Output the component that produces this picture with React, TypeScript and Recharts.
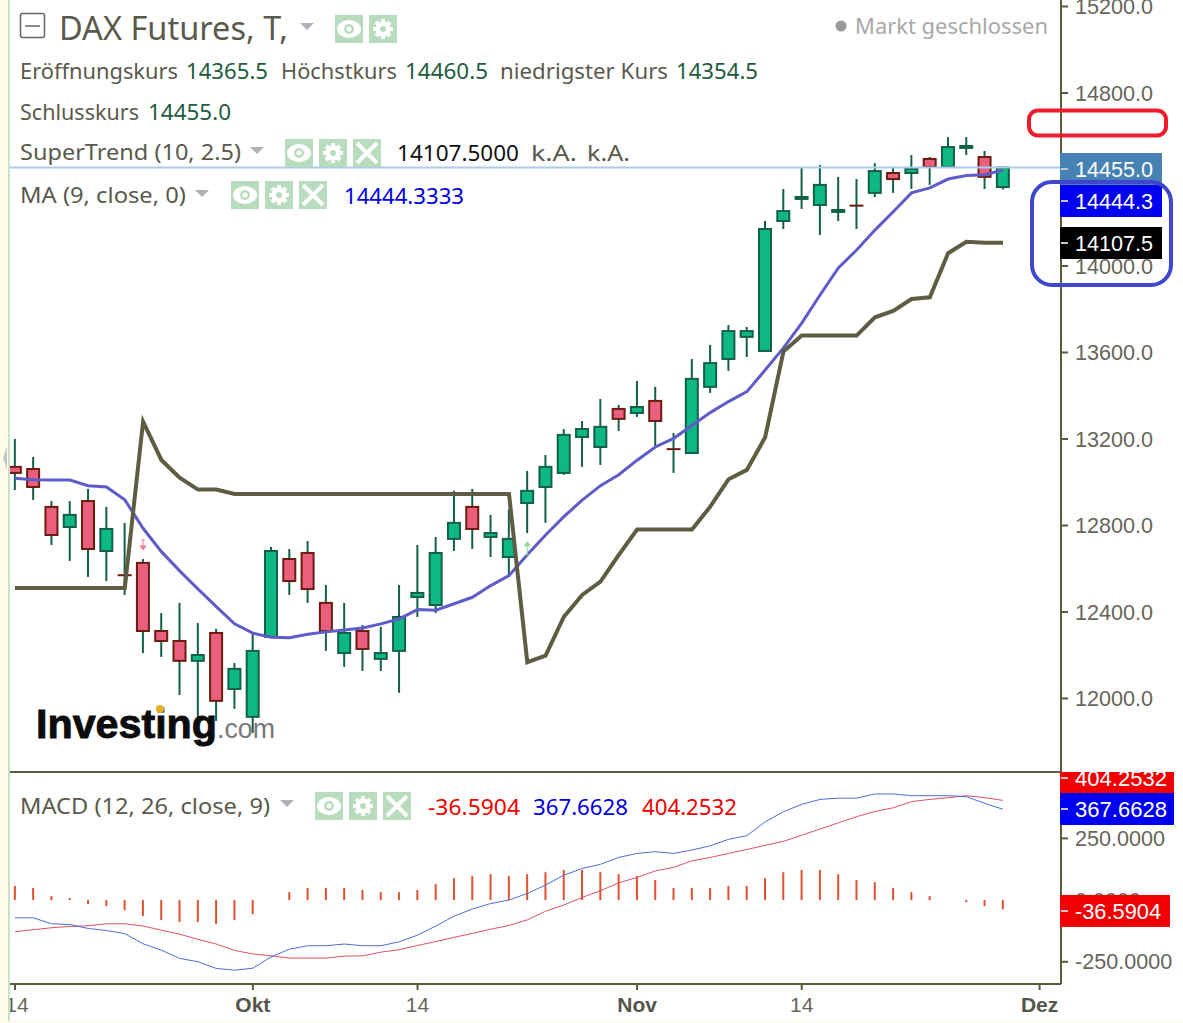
import React from 'react'
import {
  ComposedChart,
  Bar,
  Line,
  XAxis,
  YAxis,
  ReferenceLine,
  ReferenceDot,
} from 'recharts'

const opens = [13071, 13061, 12886, 12793, 12913, 12682, 12570, 12627, 12312, 12266, 12174, 12303, 12044, 11915, 12285, 12645, 12673, 12442, 12210, 12312, 12183, 12220, 12469, 12432, 12738, 12886, 12747, 12654, 12904, 12978, 13043, 13209, 13163, 13339, 13320, 13376, 13153, 13135, 13441, 13570, 13672, 13607, 14208, 14310, 14282, 14250, 14279, 14338, 14430, 14430, 14495, 14458, 14546, 14504, 14365]
const highs = [13200, 13117, 12913, 12913, 12969, 12886, 12812, 12645, 12395, 12442, 12349, 12322, 12164, 12303, 12701, 12691, 12728, 12525, 12442, 12340, 12331, 12525, 12710, 12747, 12960, 12969, 12849, 12876, 13052, 13126, 13246, 13283, 13385, 13357, 13468, 13441, 13228, 13570, 13635, 13727, 13718, 14208, 14356, 14458, 14467, 14412, 14402, 14476, 14458, 14513, 14504, 14596, 14596, 14532, 14460]
const lows = [12964, 12918, 12710, 12636, 12562, 12543, 12479, 12210, 12192, 12016, 11915, 11896, 11952, 11841, 12280, 12479, 12442, 12220, 12146, 12127, 12127, 12026, 12377, 12395, 12682, 12691, 12654, 12571, 12765, 12812, 13034, 13071, 13080, 13237, 13302, 13163, 13043, 13131, 13413, 13515, 13579, 13602, 14171, 14264, 14143, 14208, 14171, 14319, 14338, 14356, 14375, 14453, 14513, 14356, 14354]
const closes = [13043, 12978, 12756, 12849, 12691, 12784, 12566, 12312, 12266, 12174, 12201, 11989, 12137, 12220, 12682, 12543, 12506, 12312, 12303, 12229, 12210, 12377, 12488, 12673, 12812, 12784, 12765, 12738, 12960, 13071, 13219, 13246, 13256, 13293, 13348, 13283, 13149, 13478, 13551, 13699, 13699, 14171, 14254, 14319, 14375, 14259, 14275, 14439, 14402, 14449, 14458, 14550, 14555, 14412, 14455]
const maValues = [13018, 13012, 13010, 13010, 12984, 12978, 12919, 12787, 12679, 12590, 12506, 12425, 12345, 12302, 12283, 12281, 12297, 12308, 12317, 12326, 12345, 12368, 12411, 12408, 12438, 12468, 12522, 12568, 12665, 12756, 12841, 12917, 12984, 13035, 13102, 13163, 13203, 13262, 13322, 13373, 13419, 13519, 13621, 13736, 13866, 13991, 14074, 14166, 14251, 14338, 14361, 14402, 14418, 14422, 14444]
const superTrend = [12511, 12511, 12511, 12511, 12511, 12511, 12511, 13280, 13103, 13021, 12966, 12966, 12946, 12946, 12946, 12946, 12946, 12946, 12946, 12946, 12946, 12946, 12946, 12946, 12946, 12946, 12946, 12946, 12168, 12198, 12378, 12479, 12540, 12664, 12781, 12781, 12781, 12781, 12887, 13014, 13057, 13208, 13604, 13678, 13678, 13678, 13678, 13763, 13792, 13847, 13855, 14059, 14112, 14107, 14107]

const macdLine = [-72, -72, -96, -99, -115, -123, -136, -177, -203, -236, -250, -277, -284, -276, -230, -199, -185, -185, -178, -185, -185, -169, -142, -105, -65, -36, -14, 0, 27, 61, 101, 128, 145, 173, 189, 196, 189, 203, 220, 246, 261, 317, 358, 388, 408, 413, 413, 430, 430, 423, 423, 423, 419, 392, 368]
const signalLine = [-128, -120, -112, -107, -104, -96, -96, -105, -122, -138, -159, -178, -204, -218, -226, -235, -235, -235, -227, -226, -211, -201, -184, -168, -151, -135, -118, -103, -80, -45, -20, 11, 38, 70, 92, 118, 133, 159, 173, 189, 205, 222, 238, 263, 288, 313, 338, 359, 374, 399, 408, 415, 423, 415, 404]
const histogram = [57, 49, 16, 8, -16, -24, -41, -65, -81, -89, -89, -97, -81, -57, 0, 32, 49, 49, 49, 41, 32, 32, 41, 65, 89, 97, 105, 97, 105, 113, 122, 122, 113, 105, 97, 81, 49, 49, 49, 57, 57, 89, 113, 122, 122, 105, 81, 73, 49, 32, 16, 0, -8, -24, -37]

const priceTicks = [12000, 12400, 12800, 13200, 13600, 14000, 14800, 15200]
const macdTicks = [-250, 0, 250]
const dateTicks = [0, 13, 22, 34, 43, 56]
const dateLabels = ['14', 'Okt', '14', 'Nov', '14', 'Dez']

const priceData = opens.map((open, i) => ({
  i,
  open,
  high: highs[i],
  low: lows[i],
  close: closes[i],
  ma: maValues[i],
  st: superTrend[i],
}))

const macdData = macdLine.map((macd, i) => ({
  i,
  macd,
  signal: signalLine[i],
  hist: histogram[i],
}))

const WIDTH = 1183
const X_DOMAIN: [number, number] = [-0.273, 57.17]
const AXIS = '#5b5a3c'
const TICK_TEXT = '#66665a'
const LABEL = '#5a5a4c'
const GREEN_VAL = '#1e5c40'
const UI_FONT = '"Noto Sans", sans-serif'
const NUM_FONT = '"Liberation Sans", Arial, sans-serif'

function Candle(props: any) {
  const { x, y, width, height, payload } = props
  const { open, high, low, close } = payload
  const perUnit = height / (high - low)
  const yOf = (v: number) => y + (high - v) * perUnit
  const mid = x + width / 2
  const up = close >= open
  const top = yOf(Math.max(open, close))
  const bottom = yOf(Math.min(open, close))
  const doji = bottom - top < 1.2
  return (
    <g>
      <line x1={mid} x2={mid} y1={y} y2={y + height} stroke='#13604a' strokeWidth={2} />
      {doji ? (
        <line x1={mid - 7} x2={mid + 7} y1={top} y2={top} stroke='#6b1d0e' strokeWidth={2} />
      ) : (
        <rect
          x={x}
          y={top}
          width={width}
          height={bottom - top}
          fill={up ? '#0db884' : '#ea5f7e'}
          stroke={up ? '#13604a' : '#6b1d0e'}
          strokeWidth={2}
        />
      )}
    </g>
  )
}

function DateTick(props: any) {
  const { x, y, index } = props
  const label = dateLabels[index]
  const bold = label !== '14'
  return (
    <text
      x={x + (index === 0 ? 2 : 0)}
      y={y + 12}
      textAnchor='middle'
      dominantBaseline='central'
      fontFamily={NUM_FONT}
      fontSize={21}
      fontWeight={bold ? 700 : 400}
      fill={bold ? '#55554a' : TICK_TEXT}
    >
      {label}
    </text>
  )
}

function DownArrow(props: any) {
  const { cx, cy } = props
  return (
    <path
      d={`M${cx - 2} ${cy - 5}h4M${cx} ${cy - 5}v9M${cx - 3} ${cy + 1}l3 4l3 -4z`}
      stroke='#ee7f93'
      strokeWidth={1}
      fill='#ee7f93'
    />
  )
}

function UpArrow(props: any) {
  const { cx, cy } = props
  return (
    <path
      d={`M${cx - 2} ${cy + 6}h4M${cx} ${cy + 6}v-9M${cx - 3} ${cy - 3}l3 -4l3 4z`}
      stroke='#8fdc8f'
      strokeWidth={1}
      fill='#8fdc8f'
    />
  )
}

// text stretched to the extents measured in the picture
function T({ x, x2, y, size = 22, fill = LABEL, font = UI_FONT, children }: any) {
  return (
    <text
      x={x}
      y={y - 1}
      dominantBaseline='central'
      fontFamily={font}
      fontSize={size}
      fill={fill}
      textLength={x2 ? x2 - x : undefined}
      lengthAdjust={x2 ? 'spacingAndGlyphs' : undefined}
    >
      {children}
    </text>
  )
}

function Triangle({ x, y, w = 14 }: any) {
  return <path d={`M${x} ${y}h${w}l${-w / 2} 7z`} fill='#b5b0b8' />
}

function IconBox({ x, y, kind }: any) {
  const cx = x + 14
  const cy = y + 14
  return (
    <g>
      <rect x={x} y={y} width={28} height={28} fill='#b9dcbc' />
      {kind === 'eye' && (
        <g>
          <ellipse cx={cx} cy={cy} rx={12} ry={9} fill='#fff' />
          <circle cx={cx} cy={cy} r={5} fill='#b9dcbc' />
          <circle cx={cx} cy={cy} r={2.5} fill='#fff' />
        </g>
      )}
      {kind === 'gear' && (
        <g>
          <path
            d={`M${cx} ${y + 4}V${y + 24}M${x + 4} ${cy}H${x + 24}M${x + 7} ${y + 7}L${x + 21} ${y + 21}M${x + 21} ${y + 7}L${x + 7} ${y + 21}`}
            stroke='#fff'
            strokeWidth={4}
          />
          <circle cx={cx} cy={cy} r={7.5} fill='#fff' />
          <circle cx={cx} cy={cy} r={3} fill='#b9dcbc' />
        </g>
      )}
      {kind === 'x' && (
        <path
          d={`M${x + 4} ${y + 4}L${x + 24} ${y + 24}M${x + 24} ${y + 4}L${x + 4} ${y + 24}`}
          stroke='#fff'
          strokeWidth={4}
        />
      )}
    </g>
  )
}

function Badge({ y, h, w = 102, fill, label, textY, textW = 78 }: any) {
  return (
    <svg x={1060} y={y} width={w} height={h} overflow='hidden'>
      <rect width={w} height={h} fill={fill} />
      <line x1={1} x2={8} y1={textY - y} y2={textY - y} stroke='#c8c8c8' strokeWidth={2} />
      <text
        x={15}
        y={textY - y}
        dominantBaseline='central'
        fontFamily={NUM_FONT}
        fontSize={21.6}
        fill='#fff'
        textLength={textW}
        lengthAdjust='spacingAndGlyphs'
      >
        {label}
      </text>
    </svg>
  )
}

function Overlay() {
  return (
    <svg
      width={WIDTH}
      height={1023}
      style={{ position: 'absolute', left: 0, top: 0, pointerEvents: 'none' }}
    >
      <rect x={0} y={0} width={8} height={1023} fill='#fdfde9' />
      <rect x={8} y={0} width={2} height={1023} fill='#c6e2c8' />
      <rect x={0} y={1021} width={WIDTH} height={2} fill='#fdfde9' />
      <path d='M7 446L3 458L7 470z' fill='#c4c4c8' />

      <rect x={20.5} y={13.5} width={24} height={24} rx={2} fill='none' stroke='#666' strokeWidth={1.5} />
      <line x1={25} x2={40} y1={26} y2={26} stroke='#666' strokeWidth={1.5} />
      <T x={59} x2={288} y={28} size={33}>DAX Futures, T,</T>
      <Triangle x={300} y={23} />
      <IconBox x={335} y={15} kind='eye' />
      <IconBox x={369} y={15} kind='gear' />
      <circle cx={841} cy={26} r={5.5} fill='#9a9a9a' />
      <T x={855} x2={1048} y={26} fill='#a8a8a8'>Markt geschlossen</T>

      <T x={20} x2={178} y={71}>Eröffnungskurs</T>
      <T x={186} x2={268} y={71} fill={GREEN_VAL}>14365.5</T>
      <T x={281} x2={397} y={71}>Höchstkurs</T>
      <T x={405} x2={488} y={71} fill={GREEN_VAL}>14460.5</T>
      <T x={500} x2={668} y={71}>niedrigster Kurs</T>
      <T x={676} x2={758} y={71} fill={GREEN_VAL}>14354.5</T>

      <T x={20} x2={139} y={112}>Schlusskurs</T>
      <T x={148} x2={231} y={112} fill={GREEN_VAL}>14455.0</T>

      <T x={20} x2={241} y={152}>SuperTrend (10, 2.5)</T>
      <Triangle x={250} y={147} />
      <IconBox x={285} y={139} kind='eye' />
      <IconBox x={319} y={139} kind='gear' />
      <IconBox x={353} y={139} kind='x' />
      <T x={397} x2={519} y={153} fill='#111'>14107.5000</T>
      <T x={531} x2={577} y={153}>k.A.</T>
      <T x={587} x2={630} y={153}>k.A.</T>

      <T x={20} x2={186} y={195}>MA (9, close, 0)</T>
      <Triangle x={195} y={190} />
      <IconBox x={231} y={181} kind='eye' />
      <IconBox x={265} y={181} kind='gear' />
      <IconBox x={299} y={181} kind='x' />
      <T x={344} x2={464} y={196} fill='#0000e6'>14444.3333</T>

      <T x={20} x2={270} y={806}>MACD (12, 26, close, 9)</T>
      <Triangle x={280} y={800} />
      <IconBox x={315} y={792} kind='eye' />
      <IconBox x={349} y={792} kind='gear' />
      <IconBox x={383} y={792} kind='x' />
      <T x={428} x2={520} y={807} fill='#f00000'>-36.5904</T>
      <T x={533} x2={628} y={807} fill='#0000e6'>367.6628</T>
      <T x={642} x2={737} y={807} fill='#f00000'>404.2532</T>

      <text x={36} y={738} fontFamily={NUM_FONT} fontWeight={700} fontSize={41} fill='#0c0c0c' stroke='#0c0c0c' strokeWidth={0.9} textLength={181} lengthAdjust='spacingAndGlyphs'>
        Investing
      </text>
      <text x={217} y={738} fontFamily={NUM_FONT} fontSize={27} fill='#77777c' textLength={58} lengthAdjust='spacingAndGlyphs'>
        .com
      </text>
      <circle cx={160} cy={709} r={4} fill='#e8b020' />

      <Badge y={153} h={32} fill='#4682b4' label='14455.0' textY={169} />
      <Badge y={185} h={32} fill='#0000f0' label='14444.3' textY={201} />
      <Badge y={227} h={32} fill='#000' label='14107.5' textY={243} />
      <rect x={1029} y={110.5} width={137} height={25} rx={9} fill='none' stroke='#ee1c2c' strokeWidth={4} />
      <rect x={1032} y={182} width={139} height={103} rx={20} fill='none' stroke='#3f48cc' strokeWidth={4} />

      <Badge y={772} h={21} w={114} fill='#f00000' label='404.2532' textY={778} textW={92} />
      <Badge y={793} h={32} w={114} fill='#0000f0' label='367.6628' textY={809} textW={92} />
      <Badge y={895} h={32} w={110} fill='#f00000' label='-36.5904' textY={911} textW={86} />
    </svg>
  )
}

export default function App() {
  return (
    <div style={{ position: 'absolute', left: 0, top: 0, width: WIDTH, height: 1023, background: '#fff', overflow: 'hidden' }}>
      <div style={{ position: 'absolute', left: 0, top: 0 }}>
        <ComposedChart
          width={WIDTH}
          height={772}
          data={priceData}
          margin={{ top: 0, right: 0, bottom: 0, left: 10 }}
        >
          <XAxis dataKey='i' type='number' domain={X_DOMAIN} allowDataOverflow hide />
          <YAxis
            orientation='right'
            width={122}
            domain={[11660, 15230]}
            allowDataOverflow
            ticks={priceTicks}
            interval={0}
            tickFormatter={(v: number) => v.toFixed(1)}
            tick={{ fill: TICK_TEXT, fontFamily: NUM_FONT, fontSize: 21.6 }}
            tickSize={7}
            tickMargin={7}
            stroke={AXIS}
            strokeWidth={2}
          />
          <ReferenceLine y={14455} stroke='#a9cdec' strokeWidth={2} />
          <Bar
            dataKey={(d: any) => [d.low, d.high]}
            barSize={12}
            shape={<Candle />}
            isAnimationActive={false}
          />
          <Line dataKey='ma' type='linear' stroke='#5d5cc8' strokeWidth={3} dot={false} isAnimationActive={false} />
          <Line dataKey='st' type='linear' stroke='#5e5c42' strokeWidth={4} dot={false} isAnimationActive={false} />
          <ReferenceDot x={7} y={12710} r={0} shape={<DownArrow />} />
          <ReferenceDot x={28} y={12692} r={0} shape={<UpArrow />} />
        </ComposedChart>
      </div>
      <div style={{ position: 'absolute', left: 0, top: 771 }}>
        <ComposedChart
          width={WIDTH}
          height={252}
          data={macdData}
          margin={{ top: 1, right: 0, bottom: 0, left: 10 }}
        >
          <XAxis
            dataKey='i'
            type='number'
            domain={X_DOMAIN}
            allowDataOverflow
            ticks={dateTicks}
            interval={0}
            height={39}
            tick={<DateTick />}
            tickSize={6}
            stroke={AXIS}
            strokeWidth={2}
          />
          <YAxis
            orientation='right'
            width={122}
            domain={[-340, 519]}
            allowDataOverflow
            ticks={macdTicks}
            interval={0}
            tickFormatter={(v: number) => v.toFixed(4)}
            tick={{ fill: TICK_TEXT, fontFamily: NUM_FONT, fontSize: 21.6 }}
            tickSize={7}
            tickMargin={7}
            stroke={AXIS}
            strokeWidth={2}
          />
          <ReferenceLine y={519} stroke={AXIS} strokeWidth={2} />
          <Bar dataKey='hist' barSize={2} fill='#e2502f' isAnimationActive={false} />
          <Line dataKey='signal' type='linear' stroke='#e0506a' strokeWidth={1} dot={false} isAnimationActive={false} />
          <Line dataKey='macd' type='linear' stroke='#4a6ed2' strokeWidth={1} dot={false} isAnimationActive={false} />
        </ComposedChart>
      </div>
      <Overlay />
    </div>
  )
}
